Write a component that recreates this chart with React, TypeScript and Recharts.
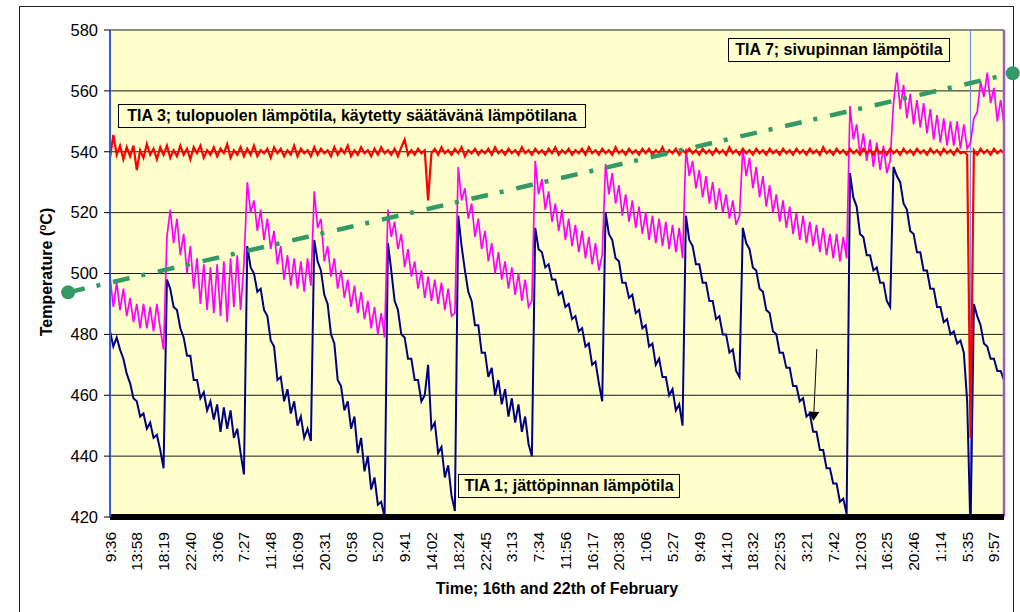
import React from 'react';
import { LineChart, Line, XAxis, YAxis, CartesianGrid, ReferenceLine, ReferenceDot } from 'recharts';

const FONT = '"Liberation Sans", Arial, Helvetica, sans-serif';

// ---- categories / tick labels ----
const tickLabels = [
  '9:36', '13:58', '18:19', '22:40', '3:06', '7:27', '11:48', '16:09', '20:31', '0:58',
  '5:20', '9:41', '14:02', '18:24', '22:45', '3:13', '7:34', '11:56', '16:17', '20:38',
  '1:06', '5:27', '9:49', '14:10', '18:32', '22:53', '3:21', '7:42', '12:03', '16:25',
  '20:46', '1:14', '5:35', '9:57',
];
const samplesPerTick = 8;
const yTicks = [420, 440, 460, 480, 500, 520, 540, 560, 580];

// ---- TIA 1; jättöpinnan lämpötila (navy) ----
const tia1 = [
  481, 476, 479, 475, 472, 467, 464, 459, 458, 453, 454, 449, 451, 446, 447, 442, 436,
  498, 495, 489, 488, 482, 479, 473, 473, 465, 465, 459, 461, 455, 458, 452, 457, 448, 456, 449, 455, 446, 449, 441, 434,
  509, 502, 500, 494, 495, 488, 486, 478, 476, 465, 466, 458, 462, 454, 458, 450, 453, 446, 449, 445,
  511, 504, 501, 493, 490, 480, 477, 465, 463, 455, 458, 449, 453, 441, 446, 435, 440, 429, 433, 424, 425, 420,
  510, 501, 491, 488, 480, 479, 472, 472, 465, 465, 458, 460, 470, 449, 451, 441, 443, 433, 437, 427, 422,
  519, 509, 501, 494, 491, 483, 483, 474, 474, 466, 469, 460, 465, 457, 462, 453, 459, 451, 457, 448, 453, 444, 440,
  515, 508, 507, 502, 503, 498, 498, 493, 494, 489, 490, 485, 486, 481, 482, 476, 477, 470, 471, 464, 458,
  520, 513, 511, 505, 504, 497, 497, 492, 493, 487, 488, 482, 483, 476, 477, 470, 472, 466, 466, 460, 462, 455, 457, 450,
  519, 511, 509, 503, 503, 497, 497, 491, 491, 485, 486, 480, 480, 474, 475, 468, 466,
  515, 510, 508, 502, 501, 495, 494, 488, 487, 481, 480, 474, 474, 469, 469, 463,
  463, 458, 459, 453, 454, 448, 448, 442, 442, 436, 436, 431, 431, 425, 426, 421,
  533, 525, 522, 513, 512, 506, 506, 501, 502, 497, 497, 491, 489,
  535, 532, 530, 523, 521, 514, 513, 507, 507, 501, 501, 495, 495, 489, 489, 484, 485, 480, 481, 477, 478, 474, 458,
  415,
  490, 486, 483, 477, 476, 472, 472, 468, 468, 465,
];

// ---- TIA 7; sivupinnan lämpötila (magenta) ----
const tia7 = [
  499, 489, 497, 488, 495, 486, 492, 484, 490, 482, 490, 482, 489, 481, 490, 482, 475,
  512, 521, 510, 518, 506, 513, 500, 509, 495, 505, 490, 503, 488, 502, 487, 503, 486, 504, 484, 505, 489, 506, 488, 503,
  530, 520, 524, 514, 521, 511, 518, 508, 514, 503, 509, 498, 506, 496, 505, 495, 504, 494, 505, 496,
  527, 515, 518, 504, 509, 499, 505, 495, 501, 492, 498, 489, 496, 487, 494, 485, 491, 482, 489, 480, 487, 479,
  521, 512, 517, 508, 513, 502, 508, 499, 504, 495, 501, 492, 499, 491, 498, 490, 497, 488, 495, 486, 487,
  535, 524, 528, 518, 523, 512, 518, 508, 514, 504, 510, 500, 507, 498, 504, 495, 502, 493, 500, 491, 498, 489, 491,
  537, 526, 531, 521, 527, 517, 523, 514, 521, 511, 518, 509, 516, 507, 514, 505, 512, 503, 510, 501, 506,
  536, 526, 533, 523, 529, 519, 526, 517, 524, 515, 522, 513, 520, 511, 519, 510, 518, 509, 517, 508, 516, 507, 515, 505,
  541, 532, 537, 528, 534, 525, 532, 523, 530, 521, 528, 520, 526, 518, 524, 516, 519,
  541, 532, 538, 528, 535, 525, 532, 522, 529, 520, 526, 517, 524, 515, 522, 513,
  520, 511, 519, 510, 517, 509, 516, 507, 515, 506, 513, 505, 513, 504, 512, 505,
  555, 544, 549, 539, 546, 537, 544, 535, 543, 534, 542, 533, 537,
  556, 566, 554, 562, 551, 559, 549, 557, 548, 556, 546, 554, 544, 552, 543, 551, 542, 550, 542, 550, 541, 549, 541,
  543,
  551, 553, 563, 558, 566, 556, 561, 550, 557, 549,
];

// ---- TIA 3; tulopuolen lämpötila (red) ----
const tia3 = [
  538, 545.5, 539, 542, 537.5, 541.5, 538.5, 542, 534, 540.5, 538, 542.5, 539, 541, 537.5, 541.5,
  539, 542, 538, 540.5, 538.5, 542, 539, 541, 537.5, 541.5, 539.5, 542, 538, 540.5, 539, 541.5,
  538.5, 541, 539.5, 542.5, 538, 540.5, 539, 541.5, 538.5, 541, 539, 542, 538.5, 540.5, 539.5, 541,
  538, 541.5, 539.5, 541, 538.5, 540.5, 539, 542, 538.5, 541, 539.5, 540.5, 538.5, 541.5, 539, 541,
  539.5, 540.5, 538.5, 541.5, 539, 541, 539.5, 542, 538.5, 540.5, 539, 541.5, 539.5, 540.5, 538.5, 541,
  539, 541.5, 539.5, 540.5, 539, 541, 538.5, 541.5, 544, 539, 540.5, 539, 541, 539.5, 540.5, 524,
  539.5, 541, 539, 541.5, 539.5, 540.5, 539, 541, 539.5, 541.5, 538.5, 540.5, 539.5, 541, 539, 540.5,
  539.5, 541, 539, 541.5, 539.5, 540.5, 539, 541, 539.5, 540.5, 539, 541.5, 539.5, 540.5, 539, 541,
  539.5, 540.5, 539, 541, 539.5, 541.5, 539, 540.5, 539.5, 541, 539, 540.5, 539.5, 541, 539, 541.5,
  539.5, 540.5, 539, 541, 539.5, 540.5, 539, 541.5, 539.5, 540.5, 539, 541, 539.5, 540.5, 539, 541,
  539.5, 541, 539, 540.5, 539.5, 541.5, 539, 540.5, 539.5, 541, 539, 540.5, 539.5, 541, 539.5, 540.5,
  539, 541, 539.5, 540.5, 539, 541, 539.5, 540.5, 539, 541.5, 539.5, 540.5, 539, 541, 539.5, 540.5,
  539, 541, 539.5, 540.5, 539, 541, 539.5, 540.5, 539, 541, 539.5, 540.5, 539, 541, 539.5, 540.5,
  539, 541, 539.5, 540.5, 539, 541.5, 539.5, 540.5, 539, 541, 539.5, 540.5, 539, 541, 539.5, 540.5,
  539, 541, 539.5, 540.5, 539, 541, 539.5, 540.5, 539, 541, 539.5, 540.5, 539, 541, 539.5, 540.5,
  539, 541, 539.5, 540.5, 539, 541, 539.5, 540.5, 539, 541, 539.5, 540.5, 539, 541, 539.5, 540,
  539, 446, 540.5, 539, 541, 539.5, 540.5, 539, 541, 539.5, 540.5, 539.5,
];

// ---- annotations (data coordinates: sample index, °C) ----
const trendStart = { x: -12.5, y: 493.8 };
const trendEnd = { x: 269.6, y: 565.8 };
const arrowFrom = { x: 211.1, y: 475.2 };
const arrowTo = { x: 210.1, y: 451.6 };
const eventIndex = 257;
const lastIndex = tia1.length - 1;

const xTicks = tickLabels.map((_, k) => k * samplesPerTick);
const data = tia1.map((v, i) => ({ i, tia1: v, tia7: tia7[i], tia3: tia3[i] }));

const XTick = (props: any) => {
  const { x, y, payload } = props;
  const label = tickLabels[Math.round(payload.value / samplesPerTick)];
  return (
    <text
      x={0}
      y={0}
      transform={`translate(${x},${y + 7}) rotate(-90)`}
      textAnchor="end"
      dominantBaseline="central"
      fontSize={15.5}
      fontFamily={FONT}
      fill="#000"
    >
      {label}
    </text>
  );
};

const Arrow = (props: any) => {
  const { x1, y1, x2, y2 } = props;
  const dx = x2 - x1;
  const dy = y2 - y1;
  const len = Math.hypot(dx, dy) || 1;
  const ux = dx / len;
  const uy = dy / len;
  const hl = 9;
  const hw = 5.5;
  const bx = x2 - ux * hl;
  const by = y2 - uy * hl;
  const pts = `${x2},${y2} ${bx - uy * hw},${by + ux * hw} ${bx + uy * hw},${by - ux * hw}`;
  return (
    <g>
      <line x1={x1} y1={y1} x2={bx} y2={by} stroke="#000" strokeWidth={1} />
      <polygon points={pts} fill="#000" />
    </g>
  );
};

const boxStyle: React.CSSProperties = {
  position: 'absolute',
  height: 24,
  boxSizing: 'border-box',
  border: '1px solid #000',
  background: '#ffffcc',
  fontFamily: FONT,
  fontWeight: 'bold',
  fontSize: 16,
  lineHeight: '22px',
  textAlign: 'center',
  whiteSpace: 'nowrap',
  color: '#000',
};

export default function App() {
  return (
    <div style={{ position: 'absolute', left: 0, top: 0, width: 1020, height: 612, overflow: 'hidden', background: '#fff' }}>
      <div
        style={{
          position: 'absolute',
          left: 19,
          top: 6,
          width: 995,
          height: 700,
          boxSizing: 'border-box',
          border: '1.5px solid #222',
        }}
      />
      <div style={{ position: 'absolute', left: 0, top: 0 }}>
        <LineChart width={1020} height={612} data={data} margin={{ top: 30, right: 16, bottom: 0, left: 0 }}>
          <CartesianGrid vertical={false} stroke="#1a1a1a" fill="#ffffcc" fillOpacity={1} />
          <XAxis
            dataKey="i"
            type="number"
            domain={[0, lastIndex]}
            ticks={xTicks}
            interval={0}
            tick={<XTick />}
            tickLine={false}
            tickSize={6}
            tickMargin={2}
            axisLine={{ stroke: '#000', strokeWidth: 6 }}
            height={95}
            allowDataOverflow
          />
          <YAxis
            type="number"
            domain={[420, 580]}
            ticks={yTicks}
            interval={0}
            allowDataOverflow
            width={110}
            tick={{ fontSize: 16.5, fill: '#000', fontFamily: FONT }}
            tickLine={{ stroke: '#000' }}
            tickSize={6}
            tickMargin={6}
            axisLine={{ stroke: '#3a5ad8', strokeWidth: 2 }}
          />
          <ReferenceLine x={eventIndex} stroke="#7090ee" strokeWidth={1.2} />
          <Line type="linear" dataKey="tia1" stroke="#000080" strokeWidth={2} dot={false} isAnimationActive={false} />
          <Line type="linear" dataKey="tia7" stroke="#ff00ff" strokeWidth={1.7} dot={false} isAnimationActive={false} />
          <Line type="linear" dataKey="tia3" stroke="#ff0000" strokeWidth={2.2} dot={false} isAnimationActive={false} />
          <ReferenceLine x={lastIndex} stroke="#9b59d0" strokeWidth={2.5} />
          <ReferenceLine segment={[arrowFrom, arrowTo]} shape={Arrow} ifOverflow="visible" />
          <ReferenceLine
            segment={[trendStart, trendEnd]}
            stroke="#339966"
            strokeWidth={4.5}
            strokeDasharray="17 12 4 13"
            ifOverflow="visible"
          />
          <ReferenceDot x={trendStart.x} y={trendStart.y} r={7} fill="#339966" stroke="none" ifOverflow="visible" />
          <ReferenceDot x={trendEnd.x} y={trendEnd.y} r={7} fill="#339966" stroke="none" ifOverflow="visible" />
        </LineChart>
      </div>
      <div style={{ ...boxStyle, left: 118, top: 104, width: 468 }}>
        TIA 3; tulopuolen lämpötila, käytetty säätävänä lämpötilana
      </div>
      <div style={{ ...boxStyle, left: 728, top: 38, width: 222 }}>TIA 7; sivupinnan lämpötila</div>
      <div style={{ ...boxStyle, left: 458, top: 474, width: 222 }}>TIA 1; jättöpinnan lämpötila</div>
      <div
        style={{
          position: 'absolute',
          left: 48,
          top: 272,
          transform: 'translate(-50%, -50%) rotate(-90deg)',
          whiteSpace: 'nowrap',
          fontFamily: FONT,
          fontWeight: 'bold',
          fontSize: 16,
          lineHeight: '18px',
          color: '#000',
        }}
      >
        Temperature (<span style={{ fontSize: 10, position: 'relative', top: -6 }}>o</span>C)
      </div>
      <div
        style={{
          position: 'absolute',
          left: 557,
          top: 589,
          transform: 'translate(-50%, -50%)',
          whiteSpace: 'nowrap',
          fontFamily: FONT,
          fontWeight: 'bold',
          fontSize: 16,
          lineHeight: '18px',
          color: '#000',
        }}
      >
        Time; 16th and 22th of February
      </div>
    </div>
  );
}
